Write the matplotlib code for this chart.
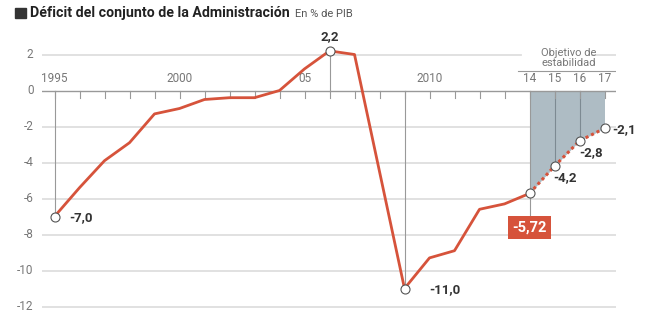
import matplotlib
matplotlib.use('Agg')
import matplotlib.pyplot as plt
from matplotlib.patches import Rectangle

FONT = ['Roboto', 'DejaVu Sans']
plt.rcParams['font.family'] = FONT

RED = '#d6533b'
GREY_TXT = '#777777'
SHADE = '#aebcc4'

# datos
years = [1995, 1996, 1997, 1998, 1999, 2000, 2001, 2002, 2003, 2004, 2005, 2006,
         2007, 2008, 2009, 2010, 2011, 2012, 2013, 2014]
deficit = [-7.0, -5.4, -3.9, -2.9, -1.3, -1.0, -0.5, -0.4, -0.4, 0.0, 1.2, 2.2,
           2.0, -4.5, -11.0, -9.3, -8.9, -6.6, -6.3, -5.72]
target_years = [2014, 2015, 2016, 2017]
target = [-5.72, -4.2, -2.8, -2.1]

year_ticks = [1995, 2000, 2005, 2010, 2014, 2015, 2016, 2017]
year_labels = ['1995', '2000', '05', '2010', '14', '15', '16', '17']
y_ticks = [2, 0, -2, -4, -6, -8, -10, -12]

fig = plt.figure(figsize=(6.64, 3.27), dpi=100)
ax = fig.add_axes([42 / 664, 1 - 311.9 / 327, 574 / 664, 284.4 / 327])
ax.set_xlim(1994.5, 2017.46)
ax.set_ylim(-12.3, 3.5)
for s in ax.spines.values():
    s.set_visible(False)
ax.set_xticks([])
ax.set_yticks([])

# horizontal grid
for v in y_ticks:
    if v == 0:
        continue
    if v == 2:
        ax.plot([1994.5, 2013.65], [v, v], color='#dedede', lw=1.3, zorder=1)
        ax.plot([2016.5, 2017.46], [v, v], color='#dedede', lw=1.3, zorder=1)
    else:
        ax.plot([1994.5, 2017.46], [v, v], color='#dedede', lw=1.3, zorder=1)
for v in y_ticks:
    ax.text(-0.015, v, str(v), transform=ax.get_yaxis_transform(), ha='right',
            va='center', fontsize=8.5, color=GREY_TXT)

# shaded objective area
ax.fill_between(target_years, target, 0, color=SHADE, lw=0, zorder=2)
for yr, v in zip(target_years[1:3], target[1:3]):
    ax.plot([yr, yr], [0, v], color='#7d8a92', lw=0.8, zorder=3)

# zero line and year ticks
ax.plot([1994.5, 2017.46], [0, 0], color='#999999', lw=1.0, zorder=3)
for yr in range(1995, 2018):
    ax.plot([yr, yr], [0, -0.4], color='#999999', lw=0.8, zorder=3)
for yr, lab in zip(year_ticks, year_labels):
    ax.text(yr, 0.3, lab, ha='center', va='bottom', fontsize=8.5, color=GREY_TXT)

# vertical guide lines
ax.plot([1995, 1995], [0, -7.0], color='#999999', lw=0.8, zorder=3)
ax.plot([2006, 2006], [0, 2.2], color='#999999', lw=0.8, zorder=3)
ax.plot([2009, 2009], [0, -11.0], color='#999999', lw=0.8, zorder=3)
ax.plot([2014, 2014], [0, -7.0], color='#999999', lw=0.8, zorder=3)

# objective header
ax.plot([2013.55, 2017.4], [1.1, 1.1], color='#999999', lw=0.8, zorder=3)
ax.text(2015.55, 1.25, 'Objetivo de\nestabilidad', ha='center', va='bottom',
        fontsize=8, color=GREY_TXT, linespacing=1.05)

# series
ax.plot(years, deficit, color=RED, lw=2.0, zorder=4, solid_joinstyle='round')
ax.plot(target_years, target, color=RED, lw=2.2, ls=(0, (1, 1)), zorder=4)

mk = dict(marker='o', ms=6.5, mfc='white', mec='#555555', mew=0.8, ls='none', zorder=5)
ax.plot([1995, 2006, 2009], [-7.0, 2.2, -11.0], **mk)
ax.plot(target_years, target, **mk)

# value labels
lab = dict(fontsize=9.5, fontweight='bold', color='#333333', zorder=6)
ax.text(2006, 2.65, '2,2', ha='center', va='bottom', **lab)
ax.text(1995.6, -7.05, '-7,0', ha='left', va='center', **lab)
ax.text(2010.0, -11.05, '-11,0', ha='left', va='center', **lab)
ax.text(2014.95, -4.85, '-4,2', ha='left', va='center', **lab)
ax.text(2016.0, -3.45, '-2,8', ha='left', va='center', **lab)
ax.text(2017.3, -2.15, '-2,1', ha='left', va='center', clip_on=False, **lab)
ax.text(2014, -7.6, '-5,72', ha='center', va='center', fontsize=10.5,
        fontweight='bold', color='white', zorder=7,
        bbox=dict(boxstyle='square,pad=0.3', fc=RED, ec='none'))

# title
fig.add_artist(Rectangle((15 / 664, 1 - 18 / 327), 11 / 664, 10 / 327,
                         transform=fig.transFigure, color='#333333'))
fig.text(30 / 664, 1 - 13 / 327, 'Déficit del conjunto de la Administración',
         ha='left', va='center', fontsize=10.2, fontweight='bold', color='#222222')
fig.text(295 / 664, 1 - 14 / 327, 'En % de PIB', ha='left', va='center',
         fontsize=8, color='#555555')

fig.savefig('out.png', dpi=100)
